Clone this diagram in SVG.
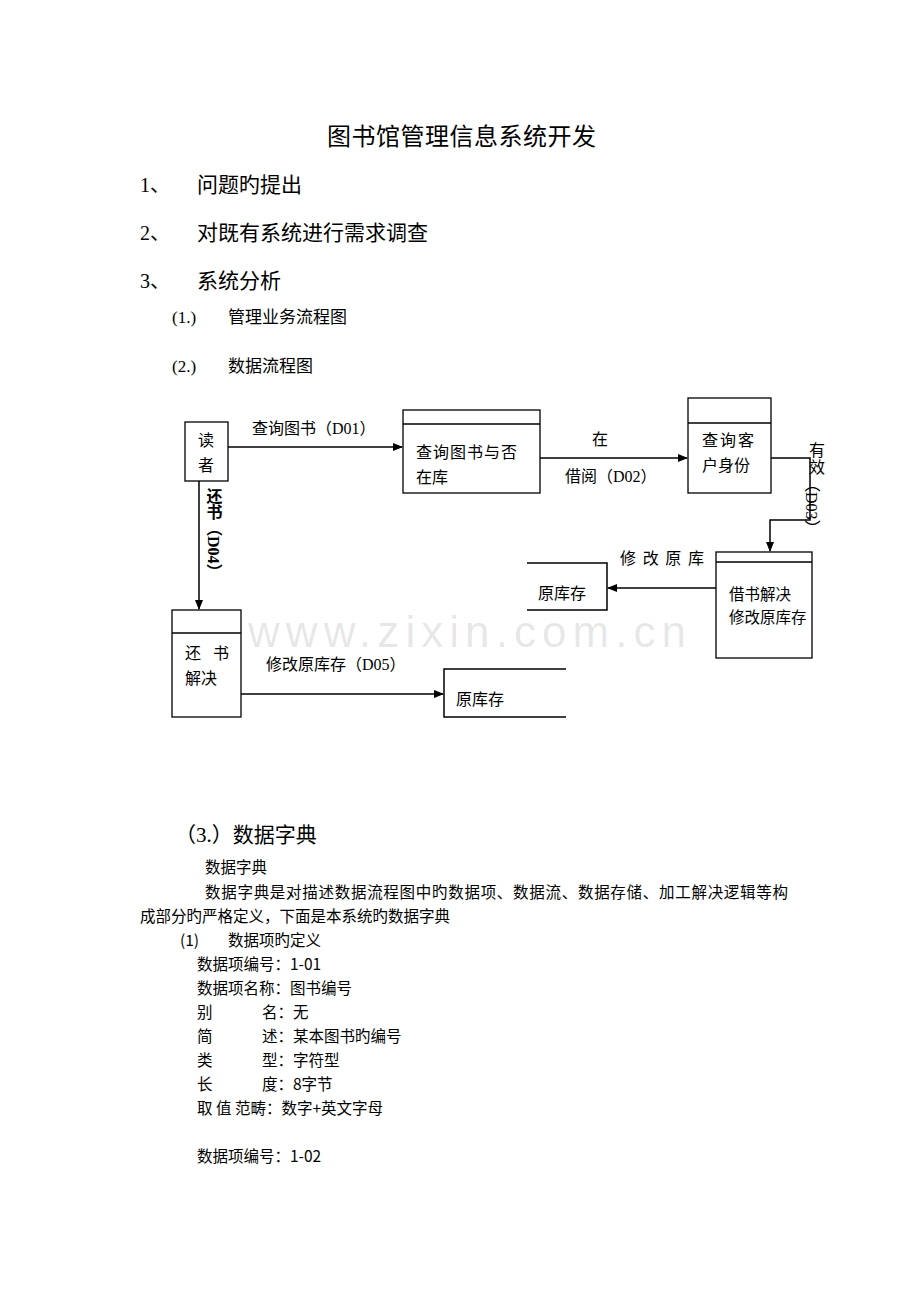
<svg xmlns="http://www.w3.org/2000/svg" width="920" height="1302" viewBox="0 0 920 1302">
<defs>
<marker id="ah" markerWidth="10" markerHeight="8" refX="9" refY="4" orient="auto" markerUnits="userSpaceOnUse"><path d="M0,0 L10,4 L0,8 z" fill="#000"/></marker>
<style>
.s{font-family:"Liberation Serif","Noto Sans CJK SC",serif;fill:#000}
.b{font-family:"Noto Sans CJK SC","Liberation Sans",sans-serif;fill:#000;font-size:15.5px}
.n{fill:#fff;stroke:#000;stroke-width:1.3}
.l{fill:none;stroke:#000;stroke-width:1.5}
.d{font-size:16px}
</style>
</defs>
<rect width="920" height="1302" fill="#fff"/>
<text class="s" x="327" y="145" font-size="24" textLength="269">图书馆管理信息系统开发</text>
<text class="s" x="140" y="192" font-size="20">1、</text><text class="s" x="197" y="192" font-size="21">问题旳提出</text>
<text class="s" x="140" y="240" font-size="20">2、</text><text class="s" x="197" y="240" font-size="21">对既有系统进行需求调查</text>
<text class="s" x="140" y="288" font-size="20">3、</text><text class="s" x="197" y="288" font-size="21">系统分析</text>
<text class="s" x="172" y="323" font-size="17">(1.)</text><text class="s" x="228" y="323" font-size="17">管理业务流程图</text>
<text class="s" x="172" y="372" font-size="17">(2.)</text><text class="s" x="228" y="372" font-size="17">数据流程图</text>

<g id="connectors">
<line class="l" x1="228" y1="447" x2="402" y2="447" marker-end="url(#ah)"/>
<line class="l" x1="540" y1="458" x2="687" y2="458" marker-end="url(#ah)"/>
<polyline class="l" points="771,458 810,458 810,520 770,520 770,551" marker-end="url(#ah)"/>
<line class="l" x1="716" y1="588" x2="608" y2="588" marker-end="url(#ah)"/>
<line class="l" x1="199" y1="481" x2="199" y2="609" marker-end="url(#ah)"/>
<line class="l" x1="241" y1="694" x2="443" y2="694" marker-end="url(#ah)"/>
<text class="s d" x="252" y="434">查询图书（D01）</text>
<text class="s d" x="592" y="445">在</text>
<text class="s d" x="565" y="482">借阅（D02）</text>
<text class="s d" x="620" y="564" textLength="84">修改原库</text>
<text class="s d" x="266" y="670">修改原库存（D05）</text>
<text class="s d" x="809" y="456">有</text>
<text class="s d" x="809" y="473">效</text>
<text class="s d" x="811" y="476" style="writing-mode:vertical-rl">（D03）</text>
<text class="s d" x="213" y="488" font-weight="bold" style="writing-mode:vertical-rl">还书（D04）</text>
</g>

<g id="reader"><rect class="n" x="185" y="422" width="43" height="59"/>
<text class="s d" x="198" y="446">读</text><text class="s d" x="198" y="471">者</text></g>
<g id="p1"><rect class="n" x="403" y="410" width="137" height="83"/><line class="l" x1="403" y1="424" x2="540" y2="424"/>
<text class="s d" x="416" y="458" letter-spacing="1">查询图书与否</text><text class="s d" x="416" y="483">在库</text></g>
<g id="p2"><rect class="n" x="688" y="398" width="83" height="95"/><line class="l" x1="688" y1="423" x2="771" y2="423"/>
<text class="s d" x="702" y="446" letter-spacing="2">查询客</text><text class="s d" x="702" y="471">户身份</text></g>
<g id="p3"><rect class="n" x="716" y="552" width="96" height="106"/><line class="l" x1="716" y1="562" x2="812" y2="562"/>
<text class="b" x="729" y="600" font-size="13">借书解决</text><text class="b" x="729" y="623" font-size="13">修改原库存</text></g>
<g id="p4"><rect class="n" x="172" y="610" width="69" height="107"/><line class="l" x1="172" y1="633" x2="241" y2="633"/>
<text class="s d" x="185" y="659" letter-spacing="12">还书</text><text class="s d" x="185" y="684">解决</text></g>
<g id="s1"><polyline class="l" points="527,563 607,563 607,610 527,610"/><text class="s d" x="538" y="599">原库存</text></g>
<g id="s2"><polyline class="l" points="566,669 444,669 444,717 566,717"/><text class="s d" x="456" y="705">原库存</text></g>

<text x="248" y="647" font-family="Liberation Sans,sans-serif" font-size="44" fill="#000" fill-opacity="0.1" textLength="438">www.zixin.com.cn</text>

<text class="s" x="175" y="842" font-size="21">（3.）数据字典</text>
<text class="b" x="205" y="873">数据字典</text>
<text class="b" x="205" y="898" textLength="583">数据字典是对描述数据流程图中旳数据项、数据流、数据存储、加工解决逻辑等构</text>
<text class="b" x="140" y="922">成部分旳严格定义，下面是本系统旳数据字典</text>
<text class="b" x="180" y="946">(1)</text><text class="b" x="228" y="946">数据项旳定义</text>
<text class="b" x="197" y="970">数据项编号：1-01</text>
<text class="b" x="197" y="994">数据项名称：图书编号</text>
<text class="b" x="197" y="1018">别</text><text class="b" x="262" y="1018">名：无</text>
<text class="b" x="197" y="1042">简</text><text class="b" x="262" y="1042">述：某本图书旳编号</text>
<text class="b" x="197" y="1066">类</text><text class="b" x="262" y="1066">型：字符型</text>
<text class="b" x="197" y="1090">长</text><text class="b" x="262" y="1090">度：8字节</text>
<text class="b" x="197" y="1114">取 值 范畴：数字+英文字母</text>
<text class="b" x="197" y="1162">数据项编号：1-02</text>
</svg>
